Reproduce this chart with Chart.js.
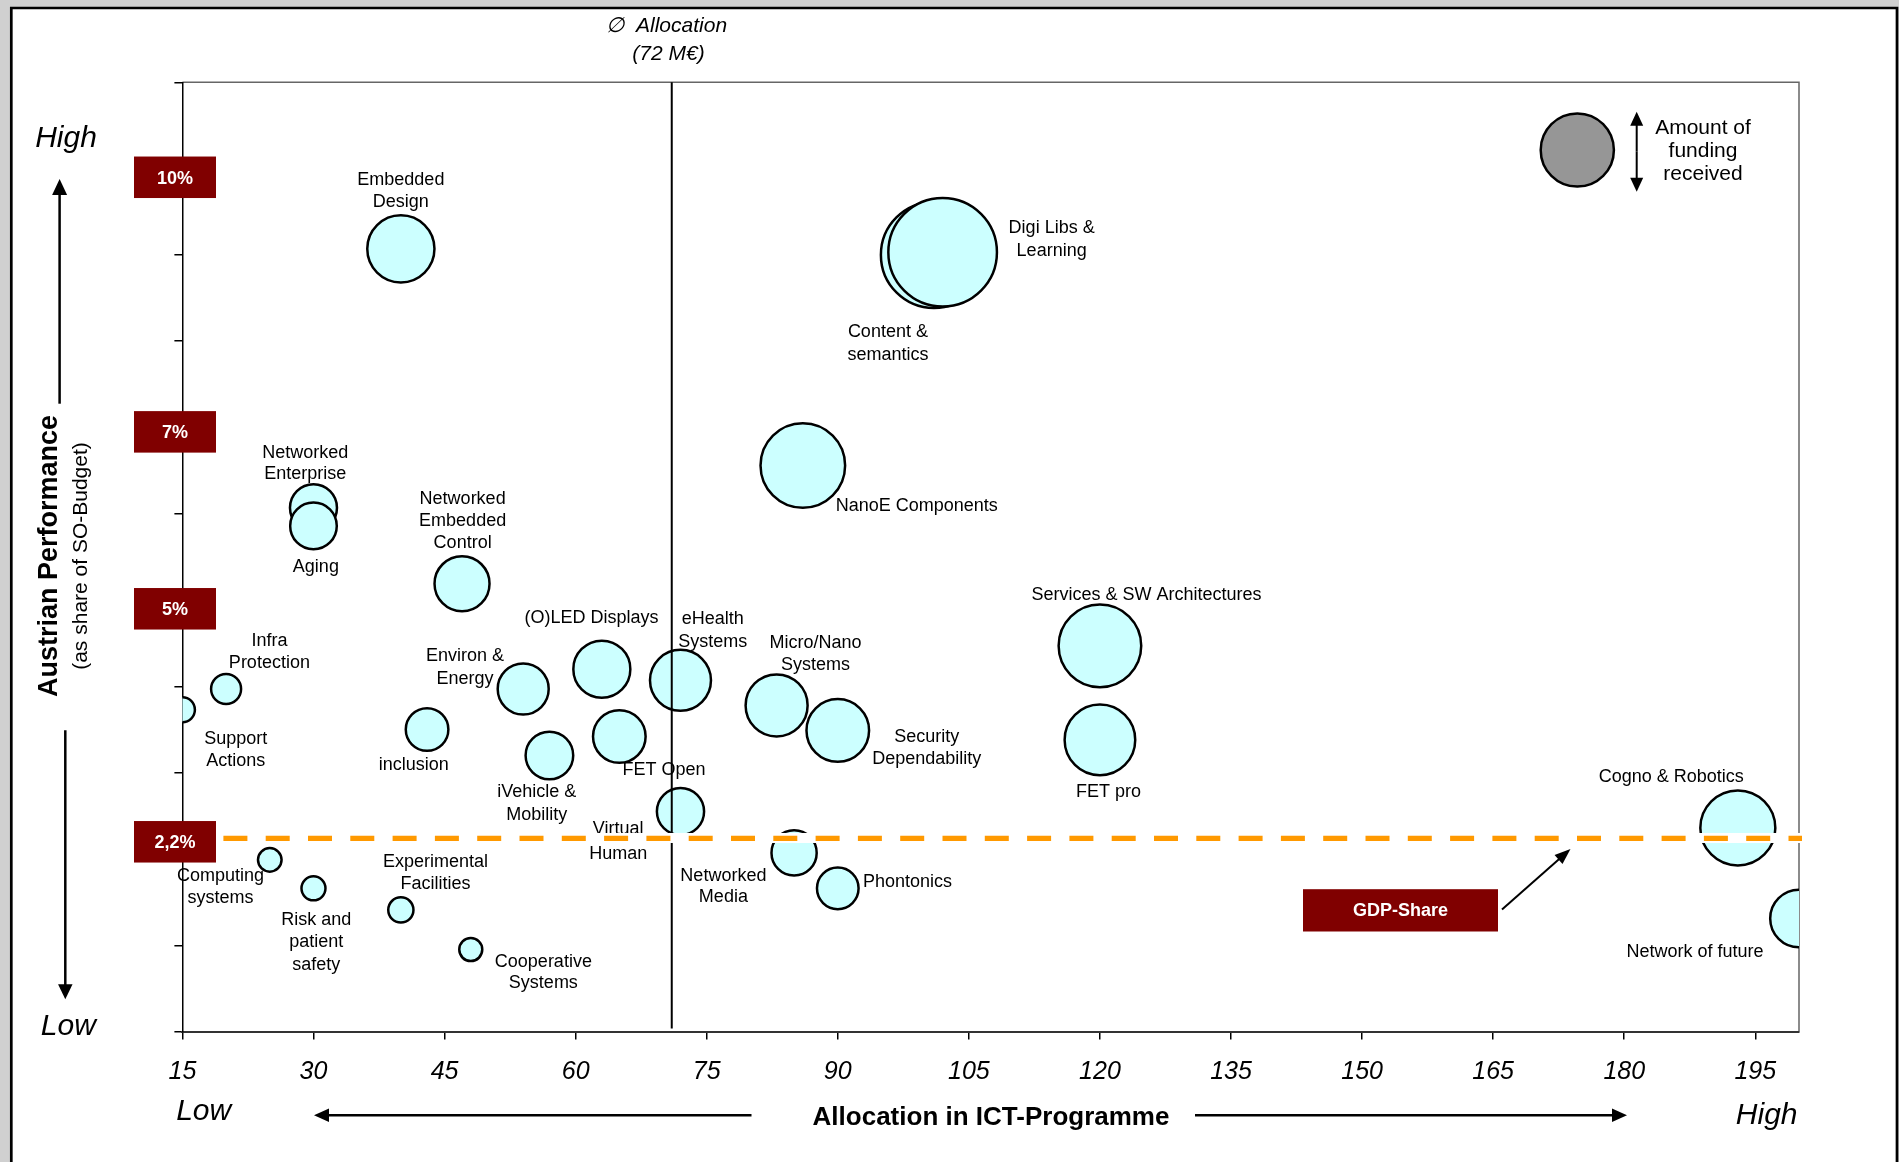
<!DOCTYPE html>
<html>
<head>
<meta charset="utf-8">
<title>Austrian Performance vs. Allocation in ICT-Programme</title>
<script src="https://cdn.jsdelivr.net/npm/chart.js@4.4.1/dist/chart.umd.min.js"></script>
<style>
  html, body { margin: 0; padding: 0; background: #d0d0d0; }
  canvas { display: block; }
</style>
</head>
<body>
<canvas id="chart" width="1899" height="1162"></canvas>
<script>
// topics, in drawing order (later ones sit on top)
const topics = [
  'Content &\nsemantics', 'Digi Libs &\nLearning', 'Embedded\nDesign', 'NanoE Components',
  'Networked\nEnterprise', 'Aging', 'Networked\nEmbedded\nControl', 'Services & SW Architectures',
  '(O)LED Displays', 'eHealth\nSystems', 'Environ &\nEnergy', 'Infra\nProtection',
  'Support\nActions', 'Micro/Nano\nSystems', 'Security\nDependability', 'inclusion',
  'FET Open', 'FET pro', 'iVehicle &\nMobility', 'Virtual\nHuman',
  'Cogno & Robotics', 'Networked\nMedia', 'Computing\nsystems', 'Phontonics',
  'Risk and\npatient\nsafety', 'Experimental\nFacilities', 'Network of future', 'Cooperative\nSystems'
];
// allocation in ICT-Programme (M€)
const allocation = [
  101, 102, 40, 86,
  30, 30, 47, 120,
  63, 72, 54, 20,
  15, 83, 90, 43,
  65, 120, 57, 72,
  193, 85, 25, 90,
  30, 40, 200, 48
];
// Austrian performance (% share of SO-budget)
const performance = [
  9.0, 9.03, 9.07, 6.56,
  6.07, 5.86, 5.19, 4.47,
  4.2, 4.07, 3.97, 3.97,
  3.73, 3.78, 3.49, 3.5,
  3.42, 3.38, 3.2, 2.55,
  2.36, 2.07, 1.99, 1.66,
  1.66, 1.41, 1.31, 0.95
];
// amount of funding received (bubble size index)
const funding = [
  53, 54.3, 33.6, 42.3,
  23.5, 23.3, 27.5, 41.3,
  28.5, 30.5, 25.5, 15,
  12.5, 31, 31.3, 21.3,
  26.3, 35.3, 23.8, 23.6,
  37.5, 22.6, 11.8, 20.8,
  12, 12.6, 28.8, 11.5
];
const xTicks = [15, 30, 45, 60, 75, 90, 105, 120, 135, 150, 165, 180, 195];
const yTicks = [0, 1, 2, 3, 4, 5, 6, 7, 8, 9, 10, 11];
const shareMarks = [9.9, 6.95, 4.9, 2.2];
const shareLabels = ['10%', '7%', '5%', '2,2%'];
const avgAllocation = 71;
const gdpShare = 2.24;

// label placement: offset of first line centre from bubble centre, line gap
const labelPos = [
  [-46, 76, 22.3], [109, -25.3, 22.6], [0, -70.5, 22], [114, 39.3],
  [-8.3, -56.7, 21.7], [2.4, 39.3], [0.6, -86.6, 22], [46.6, -52.7],
  [-10.4, -52.6], [32.3, -63.3, 23.3], [-58.3, -34, 22.3], [43.3, -49.7, 22],
  [53.4, 27.4, 22.3], [39, -64, 21.7], [89, 5, 21.7], [-13.4, 34],
  [44.7, 32.3], [8.5, 50.9], [-12.6, 35, 23.5], [-62.3, 15.8, 25.3],
  [-66.6, -52.7], [-70.7, 21.3, 21], [-49.3, 15, 21.7], [69.7, -7.6],
  [2.7, 30, 22.5], [34.7, -49, 21.7], [-104, 31.8], [72.6, 10.7, 21.6]
];

const FONT = "'Liberation Sans', Arial, Helvetica, sans-serif";
const MAROON = '#800000';
Chart.defaults.font.family = FONT;

function arrow(ctx, x1, y1, x2, y2, w, head, headW) {
  const a = Math.atan2(y2 - y1, x2 - x1);
  ctx.lineWidth = w;
  ctx.beginPath();
  ctx.moveTo(x1, y1);
  ctx.lineTo(x2 - Math.cos(a) * head * 0.8, y2 - Math.sin(a) * head * 0.8);
  ctx.stroke();
  ctx.save();
  ctx.translate(x2, y2);
  ctx.rotate(a);
  ctx.beginPath();
  ctx.moveTo(0, 0);
  ctx.lineTo(-head, -headW / 2);
  ctx.lineTo(-head, headW / 2);
  ctx.closePath();
  ctx.fill();
  ctx.restore();
}

// canvas 'middle' sits a little above the visual centre of the caps
function lines(ctx, text, x, y, gap) {
  text.split('\n').forEach((t, i) => ctx.fillText(t, x, y + 1.5 + i * gap));
}

const decorations = {
  id: 'decorations',
  beforeDraw(chart) {
    const ctx = chart.ctx;
    ctx.save();
    ctx.fillStyle = '#d0d0d0';
    ctx.fillRect(0, 0, chart.width, chart.height);
    ctx.fillStyle = '#fff';
    ctx.fillRect(11, 8, 1886, chart.height);
    ctx.strokeStyle = '#000';
    ctx.lineWidth = 2.7;
    ctx.beginPath();
    ctx.moveTo(11.3, chart.height);
    ctx.lineTo(11.3, 8);
    ctx.lineTo(1897, 8);
    ctx.lineTo(1897, chart.height);
    ctx.stroke();
    // plot frame (top and right)
    const a = chart.chartArea;
    ctx.strokeStyle = '#666';
    ctx.lineWidth = 1.5;
    ctx.beginPath();
    ctx.moveTo(a.left, a.top);
    ctx.lineTo(a.right, a.top);
    ctx.lineTo(a.right, a.bottom);
    ctx.stroke();
    ctx.restore();
  },
  afterDatasetsDraw(chart) {
    const ctx = chart.ctx;
    const a = chart.chartArea;
    const xs = chart.scales.x, ys = chart.scales.y;
    const meta = chart.getDatasetMeta(0);
    ctx.save();

    // average allocation line
    const ax = xs.getPixelForValue(avgAllocation);
    ctx.strokeStyle = '#000';
    ctx.lineWidth = 2;
    ctx.beginPath();
    ctx.moveTo(ax, a.top);
    ctx.lineTo(ax, a.bottom - 3);
    ctx.stroke();

    // bubble labels
    ctx.fillStyle = '#000';
    ctx.font = '18px ' + FONT;
    ctx.textAlign = 'center';
    ctx.textBaseline = 'middle';
    meta.data.forEach((el, i) => {
      const p = labelPos[i];
      lines(ctx, topics[i], el.x + p[0], el.y + p[1], p[2] || 22);
    });

    // GDP share line on a white band
    const gy = ys.getPixelForValue(gdpShare);
    const gx0 = a.left + 41;
    ctx.fillStyle = '#fff';
    ctx.fillRect(gx0 - 4, gy - 5.3, a.right - gx0 + 8, 10);
    ctx.strokeStyle = '#ff9900';
    ctx.lineWidth = 5.3;
    ctx.setLineDash([24, 18.3]);
    ctx.beginPath();
    ctx.moveTo(gx0, gy);
    ctx.lineTo(a.right + 3, gy);
    ctx.stroke();
    ctx.setLineDash([]);

    // share marks on the y axis
    ctx.font = 'bold 18px ' + FONT;
    shareMarks.forEach((v, i) => {
      const y = ys.getPixelForValue(v);
      ctx.fillStyle = MAROON;
      ctx.fillRect(a.left - 48.4, y - 20.7, 82, 41.5);
      ctx.fillStyle = '#fff';
      ctx.fillText(shareLabels[i], a.left - 7.4, y + 1.5);
    });

    // GDP-Share callout
    ctx.fillStyle = MAROON;
    ctx.fillRect(1303, 889.2, 195, 42.3);
    ctx.fillStyle = '#fff';
    ctx.fillText('GDP-Share', 1400.5, 911.5);
    ctx.fillStyle = '#000';
    ctx.strokeStyle = '#000';
    arrow(ctx, 1502, 909.6, 1570.5, 849, 2, 16, 12);

    // funding legend
    ctx.fillStyle = '#969696';
    ctx.lineWidth = 2.5;
    ctx.beginPath();
    ctx.arc(1577.3, 150, 36.6, 0, Math.PI * 2);
    ctx.fill();
    ctx.stroke();
    ctx.fillStyle = '#000';
    arrow(ctx, 1636.7, 151.7, 1636.7, 111.7, 2, 14, 13);
    arrow(ctx, 1636.7, 151.7, 1636.7, 191.7, 2, 14, 13);
    ctx.font = '21px ' + FONT;
    lines(ctx, 'Amount of\nfunding\nreceived', 1703, 126.3, 23.3);

    // average allocation caption
    ctx.font = 'italic 21px ' + FONT;
    ctx.fillText('\u2205', 615, 26.5);
    ctx.textAlign = 'left';
    ctx.fillText('Allocation', 636, 26.5);
    ctx.textAlign = 'center';
    ctx.fillText('(72 M\u20ac)', 668.5, 54.5);

    // axis titles
    ctx.font = 'bold 26px ' + FONT;
    ctx.fillText('Allocation in ICT-Programme', 991, 1117.5);
    ctx.save();
    ctx.translate(50, 556);
    ctx.rotate(-Math.PI / 2);
    ctx.font = 'bold 27px ' + FONT;
    ctx.fillText('Austrian Performance', 0, 0);
    ctx.font = '21px ' + FONT;
    ctx.fillText('(as share of SO-Budget)', 0, 31);
    ctx.restore();

    ctx.font = 'italic 30px ' + FONT;
    ctx.fillText('High', 66, 139);
    ctx.fillText('Low', 68.3, 1027);
    ctx.fillText('Low', 203.7, 1112);
    ctx.fillText('High', 1766.7, 1116);

    // direction arrows
    arrow(ctx, 59.6, 403.7, 59.6, 179, 2.5, 16, 15);
    arrow(ctx, 65.3, 730.3, 65.3, 999.3, 2.5, 15, 14.5);
    arrow(ctx, 751.5, 1115.3, 314, 1115.3, 2.5, 15, 13.5);
    arrow(ctx, 1195, 1115.3, 1627, 1115.3, 2.5, 15, 13.5);

    ctx.restore();
  }
};

const points = allocation.map((x, i) => ({ x: x, y: performance[i], r: funding[i] }));

new Chart(document.getElementById('chart'), {
  type: 'bubble',
  data: {
    datasets: [{
      label: 'Amount of funding received',
      data: points,
      backgroundColor: '#ccffff',
      borderColor: '#000',
      borderWidth: 2.5,
      clip: 0
    }]
  },
  options: {
    responsive: false,
    animation: false,
    events: [],
    layout: { padding: { left: 0, right: 100, top: 82.3, bottom: 0 } },
    plugins: { legend: { display: false }, tooltip: { enabled: false } },
    scales: {
      x: {
        type: 'linear',
        min: 15,
        max: 200,
        afterBuildTicks: s => { s.ticks = xTicks.map(v => ({ value: v })); },
        afterFit: s => { s.height = 1162 - 1031.6; },
        grid: { drawOnChartArea: false, drawTicks: true, tickLength: 8, color: '#000', lineWidth: 1.5 },
        border: { display: true, color: '#333', width: 2 },
        ticks: { color: '#000', padding: 17.5, maxRotation: 0, autoSkip: false,
                 font: { size: 25, style: 'italic', family: FONT } }
      },
      y: {
        type: 'linear',
        min: 0,
        max: 11,
        afterBuildTicks: s => { s.ticks = yTicks.map(v => ({ value: v })); },
        afterFit: s => { s.width = 182.4; },
        grid: { drawOnChartArea: false, drawTicks: true, tickLength: 8, color: '#000', lineWidth: 1.5 },
        border: { display: true, color: '#000', width: 1.5 },
        ticks: { display: false }
      }
    }
  },
  plugins: [decorations]
});
</script>
</body>
</html>
